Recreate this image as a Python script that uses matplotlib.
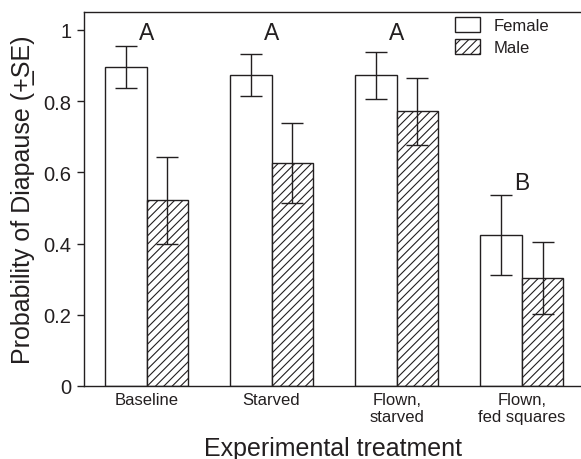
import numpy as np
import matplotlib
matplotlib.use('Agg')
import matplotlib.pyplot as plt

plt.rcParams['font.family'] = ['Liberation Sans', 'DejaVu Sans']
plt.rcParams['hatch.linewidth'] = 0.8

# probability of diapause by treatment and sex (mean and SE)
treatments = ['Baseline', 'Starved', 'Flown,\nstarved', 'Flown,\nfed squares']
female = [0.896, 0.873, 0.873, 0.424]
female_se = [0.058, 0.060, 0.066, 0.111]
male = [0.521, 0.626, 0.771, 0.302]
male_se = [0.122, 0.112, 0.093, 0.101]
letters = ['A', 'A', 'A', 'B']
letter_y = [0.975, 0.975, 0.975, 0.553]

ink = '#231f20'
x = np.arange(len(treatments))
w = 1/3.

fig = plt.figure(figsize=(5.81, 4.6), dpi=100)
ax = fig.add_axes([84/581., 73/460., 497/581., 374/460.])

ax.bar(x-w/2, female, w, color='white', edgecolor=ink, linewidth=1.0, label='Female')
ax.bar(x+w/2, male, w, color='white', edgecolor=ink, linewidth=1.0, hatch='////', label='Male')
ax.errorbar(x-w/2, female, yerr=female_se, fmt='none', ecolor=ink, elinewidth=1.0, capsize=8, capthick=1.0)
ax.errorbar(x+w/2, male, yerr=male_se, fmt='none', ecolor=ink, elinewidth=1.0, capsize=8, capthick=1.0)

for xi, let, ly in zip(x, letters, letter_y):
    ax.text(xi, ly, let, ha='center', va='baseline', fontsize=16.5, color=ink)

ax.set_xlim(-0.5, (581-146.7)/125.)
ax.set_ylim(0, 1.05)
ax.set_yticks([0, 0.2, 0.4, 0.6, 0.8, 1.0])
ax.set_yticklabels(['0', '0.2', '0.4', '0.6', '0.8', '1'])
ax.set_xticks(x)
ax.set_xticklabels(treatments)
ax.tick_params(axis='y', direction='out', length=5, width=1.0, pad=4, labelsize=14.5, colors=ink)
ax.tick_params(axis='x', length=0, pad=4, labelsize=12, colors=ink)
for s in ['left', 'bottom', 'top']:
    ax.spines[s].set_color(ink)
    ax.spines[s].set_linewidth(1.0)
ax.spines['right'].set_visible(False)

ax.set_ylabel('Probability of Diapause (+\u0332SE)', fontsize=18, color=ink, labelpad=6)
ax.set_xlabel('Experimental treatment', fontsize=18, color=ink, labelpad=9)

ax.legend(loc='upper left', bbox_to_anchor=(442/581., 1-5/460.), bbox_transform=fig.transFigure,
          frameon=False, fontsize=12, handlelength=1.5, handleheight=1.0, handletextpad=0.8,
          labelspacing=0.35, borderpad=0.3, labelcolor=ink)

fig.savefig('out.png', dpi=100)
